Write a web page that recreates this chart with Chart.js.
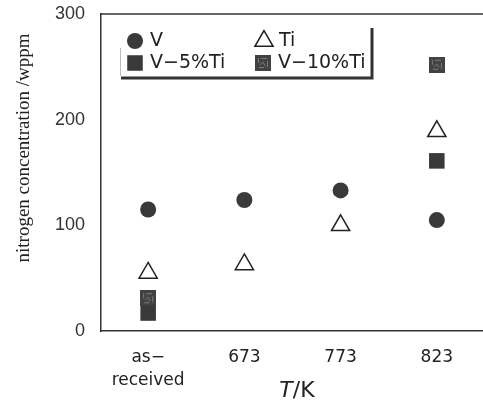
<!DOCTYPE html>
<html>
<head>
<meta charset="utf-8">
<script src="https://cdn.jsdelivr.net/npm/chart.js@4.4.1/dist/chart.umd.min.js"></script>
<style>
  html, body { margin: 0; padding: 0; background: #fff; overflow: hidden; }
  #wrap { width: 483px; height: 401px; }
</style>
</head>
<body>
<div id="wrap"><canvas id="chart" width="483" height="401"></canvas></div>
<script>
// categories on the T/K axis
const categories = [['as\u2212', 'received'], '673', '773', '823'];
const categoryIndex = [0, 1, 2, 3];
const yTicks = [0, 100, 200, 300];

// nitrogen concentration /wppm
const vValues = [115, 124, 133, 105];
const tiValues = [55, 63, 100, 189];
const v5TiValues = [17, null, null, 161];
const v10TiValues = [31, null, null, 252];

const seriesLabels = ['V', 'Ti', 'V\u22125%Ti', 'V\u221210%Ti'];

const ink = '#3a3a3a';

// speckled square used for the V-10%Ti marks
const makePatternSquare = (size) => {
    const c = document.createElement('canvas');
    c.width = size; c.height = size;
    const g = c.getContext('2d');
    g.fillStyle = '#424242';
    g.fillRect(0, 0, size, size);
    g.strokeStyle = '#7a7a7a';
    g.lineWidth = 1;
    g.beginPath();
    g.moveTo(3.5, 3); g.lineTo(3.5, 8);
    g.moveTo(6, 3.5); g.lineTo(12, 3.5);
    g.moveTo(12.5, 6); g.lineTo(12.5, 12);
    g.moveTo(5, 10); g.lineTo(8, 7); g.lineTo(10, 11);
    g.moveTo(4, 12.5); g.lineTo(9, 12.5);
    g.stroke();
    return c;
};
const patternSquare = makePatternSquare(16);

const toPoints = (values) => categoryIndex
    .map((x, i) => ({ x, y: values[i] }))
    .filter(p => p.y !== null);

// frame, legend box and axis titles
const decorPlugin = {
    id: 'decor',
    afterDraw(chart) {
        const { ctx, chartArea } = chart;
        ctx.save();
        // top frame line
        ctx.strokeStyle = '#333';
        ctx.lineWidth = 1.5;
        ctx.beginPath();
        ctx.moveTo(chartArea.left, chartArea.top);
        ctx.lineTo(chartArea.right, chartArea.top);
        ctx.stroke();

        // legend shadow box
        ctx.lineWidth = 3;
        ctx.beginPath();
        ctx.moveTo(372, 28);
        ctx.lineTo(372, 78);
        ctx.lineTo(121, 78);
        ctx.stroke();
        ctx.strokeStyle = '#bbb';
        ctx.lineWidth = 1;
        ctx.beginPath();
        ctx.moveTo(120.5, 48);
        ctx.lineTo(120.5, 76);
        ctx.stroke();

        // legend entries
        const spots = [[135, 41], [264, 41], [135, 63], [263, 63]];
        chart.data.datasets.forEach((ds, i) => {
            const [mx, my] = spots[i];
            ctx.fillStyle = ds.backgroundColor;
            ctx.strokeStyle = ds.borderColor;
            ctx.lineWidth = ds.borderWidth;
            Chart.helpers.drawPoint(ctx, {
                pointStyle: ds.pointStyle,
                radius: ds.pointRadius,
                rotation: 0,
                borderWidth: ds.borderWidth
            }, mx, my);
            ctx.fillStyle = '#222';
            ctx.font = '19px "DejaVu Sans"';
            ctx.textBaseline = 'middle';
            ctx.textAlign = 'left';
            ctx.fillText(ds.label, mx + 15, my);
        });

        // y title
        ctx.fillStyle = '#222';
        ctx.save();
        ctx.translate(24, 148);
        ctx.rotate(-Math.PI / 2);
        ctx.font = '19px "Liberation Serif"';
        ctx.textAlign = 'center';
        ctx.textBaseline = 'middle';
        ctx.fillText('nitrogen concentration /wppm', 0, 0);
        ctx.restore();

        // x title: T/K with italic T
        ctx.textBaseline = 'middle';
        ctx.textAlign = 'left';
        ctx.font = 'italic 22px "DejaVu Sans"';
        const tW = ctx.measureText('T').width;
        ctx.font = '22px "DejaVu Sans"';
        const kW = ctx.measureText('/K').width;
        const x0 = 297 - (tW + kW) / 2;
        ctx.font = 'italic 22px "DejaVu Sans"';
        ctx.fillText('T', x0, 391);
        ctx.font = '22px "DejaVu Sans"';
        ctx.fillText('/K', x0 + tW, 391);
        ctx.restore();
    }
};

new Chart(document.getElementById('chart'), {
    type: 'scatter',
    data: {
        datasets: [
            {
                label: seriesLabels[0],
                data: toPoints(vValues),
                pointStyle: 'circle',
                pointRadius: 8,
                backgroundColor: ink,
                borderColor: ink,
                borderWidth: 0
            },
            {
                label: seriesLabels[1],
                data: toPoints(tiValues),
                pointStyle: 'triangle',
                pointRadius: 10.5,
                backgroundColor: '#fff',
                borderColor: '#222',
                borderWidth: 1.5
            },
            {
                label: seriesLabels[2],
                data: toPoints(v5TiValues),
                pointStyle: 'rect',
                pointRadius: 11,
                backgroundColor: ink,
                borderColor: ink,
                borderWidth: 0
            },
            {
                label: seriesLabels[3],
                data: toPoints(v10TiValues),
                pointStyle: patternSquare,
                pointRadius: 8,
                backgroundColor: '#424242',
                borderColor: '#424242',
                borderWidth: 0
            }
        ]
    },
    plugins: [decorPlugin],
    options: {
        responsive: false,
        animation: false,
        layout: { autoPadding: false, padding: { top: 14, right: 0, left: 0, bottom: 0 } },
        plugins: {
            legend: { display: false },
            tooltip: { enabled: false }
        },
        scales: {
            x: {
                type: 'linear',
                min: -0.49,
                max: 3.48,
                afterBuildTicks: (scale) => { scale.ticks = categoryIndex.map(v => ({ value: v })); },
                afterFit: (scale) => {
                    scale.height = 70;
                    scale.paddingLeft = 0;
                    scale.paddingRight = 0;
                },
                grid: { display: false, drawTicks: false },
                border: { display: true, color: '#333', width: 1.5 },
                ticks: {
                    padding: 16,
                    color: '#222',
                    font: { family: 'DejaVu Sans', size: 17, lineHeight: 1.3 },
                    callback: (value) => categories[value]
                }
            },
            y: {
                min: 0,
                max: 300,
                afterBuildTicks: (scale) => { scale.ticks = yTicks.map(v => ({ value: v })); },
                afterFit: (scale) => {
                    scale.width = 101;
                    scale.paddingTop = 0;
                    scale.paddingBottom = 0;
                },
                grid: { display: false, drawTicks: false },
                border: { display: true, color: '#333', width: 1.5 },
                ticks: {
                    padding: 16,
                    color: '#333',
                    font: { family: 'Liberation Sans', size: 18 }
                }
            }
        }
    }
});
</script>
</body>
</html>
